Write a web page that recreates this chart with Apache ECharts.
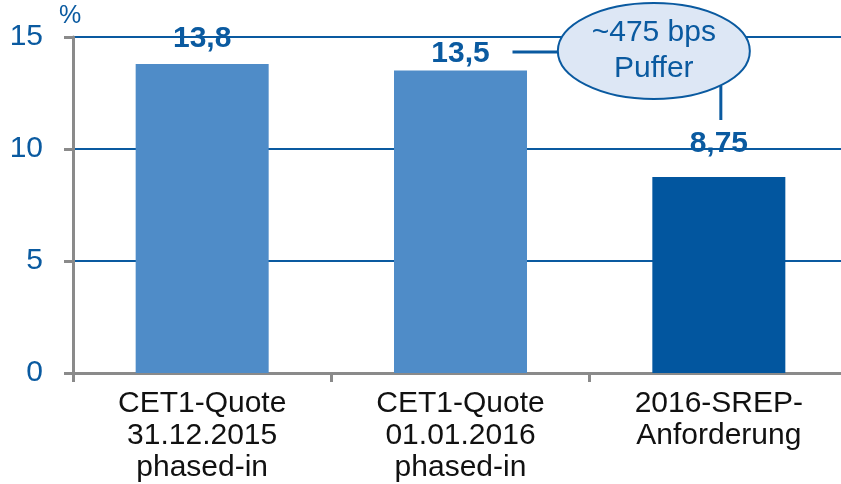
<!DOCTYPE html>
<html>
<head>
<meta charset="utf-8">
<script src="https://cdn.jsdelivr.net/npm/echarts@6/dist/echarts.min.js"></script>
<style>
  html, body { margin: 0; padding: 0; background: #fff; }
  #chart { width: 841px; height: 484px; }
</style>
</head>
<body>
<div id="chart"></div>
<script>
  // Daten
  var categories = ['CET1-Quote\n31.12.2015\nphased-in', 'CET1-Quote\n01.01.2016\nphased-in', '2016-SREP-\nAnforderung'];
  var values = [13.8, 13.5, 8.75];
  var valueLabels = ['13,8', '13,5', '8,75'];
  var labelGaps = [10, 2, 18]; // Abstand Label zum Balken
  var barColors = ['#4f8cc8', '#4f8cc8', '#02569f'];
  var yTicks = [0, 5, 10, 15];
  var calloutText = '~475 bps\nPuffer';

  var blue = '#0a5aa0';
  var grey = '#8a8a8a';
  var font = 'Liberation Sans, Arial, sans-serif';

  var myChart = echarts.init(document.getElementById('chart'));

  var seriesData = values.map(function (v, i) {
    return {
      value: v,
      itemStyle: { color: barColors[i] },
      label: { formatter: valueLabels[i], distance: labelGaps[i] }
    };
  });

  myChart.setOption({
    animation: false,
    grid: { left: 73, right: -7, top: 37, bottom: 111, outerBoundsMode: 'none' },
    xAxis: {
      type: 'category',
      data: categories,
      axisLine: { lineStyle: { color: grey, width: 3 } },
      axisTick: { show: true, length: 9, lineStyle: { color: grey, width: 3 } },
      axisLabel: {
        color: '#111', fontSize: 30, lineHeight: 32, margin: 15,
        fontFamily: font, interval: 0
      }
    },
    yAxis: {
      type: 'value',
      min: yTicks[0],
      max: yTicks[yTicks.length - 1],
      interval: 5,
      name: '%',
      nameLocation: 'end',
      nameGap: 8,
      nameTextStyle: { color: blue, fontSize: 25, fontFamily: font, align: 'center', padding: [0, 0, 0, -6] },
      axisLine: { show: true, lineStyle: { color: grey, width: 3 } },
      axisTick: { show: true, length: 9, lineStyle: { color: grey, width: 3 } },
      axisLabel: { color: blue, fontSize: 30, margin: 30, fontFamily: font },
      splitLine: { show: true, lineStyle: { color: blue, width: 2 } }
    },
    series: [{
      type: 'bar',
      data: seriesData,
      barWidth: 133,
      z: 3,
      label: {
        show: true,
        position: 'top',
        color: blue,
        fontSize: 30,
        fontWeight: 'bold',
        fontFamily: font
      }
    }]
  }, true);

  // Callout "Puffer" an den Balken ausrichten
  var p2 = myChart.convertToPixel({ seriesIndex: 0 }, [1, values[1]]);
  var p3 = myChart.convertToPixel({ seriesIndex: 0 }, [2, values[2]]);
  var rx = 96, ry = 48;
  var cx = p3[0] - 65, cy = 51;

  myChart.setOption({
    graphic: [
      { type: 'line', z: 10, shape: { x1: p2[0] + 52, y1: 52, x2: cx - rx + 2, y2: 52 }, style: { stroke: blue, lineWidth: 3 } },
      { type: 'line', z: 10, shape: { x1: p3[0] + 2, y1: 86, x2: p3[0] + 2, y2: 120 }, style: { stroke: blue, lineWidth: 3 } },
      { type: 'ellipse', z: 11, shape: { cx: cx, cy: cy, rx: rx, ry: ry }, style: { fill: '#dde7f5', stroke: blue, lineWidth: 2 } },
      {
        type: 'text', z: 12, x: cx, y: cy,
        style: {
          text: calloutText, fill: blue, fontSize: 30, lineHeight: 36,
          fontFamily: font, align: 'center', verticalAlign: 'middle'
        }
      }
    ]
  });
</script>
</body>
</html>
